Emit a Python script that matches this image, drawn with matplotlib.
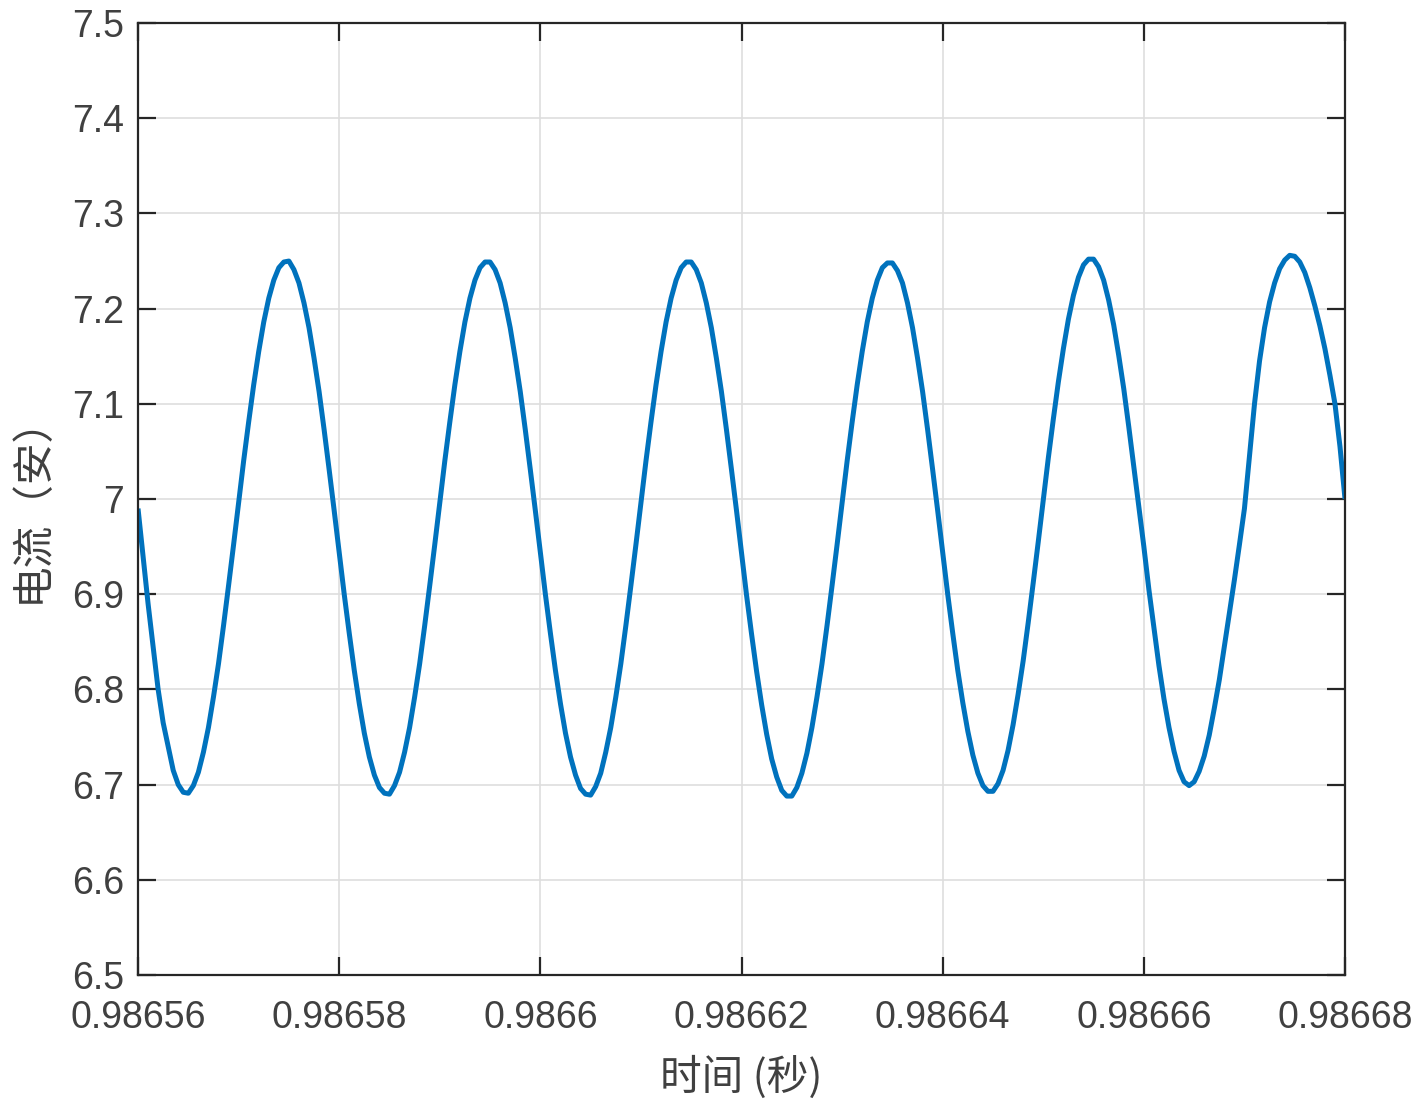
import numpy as np
import matplotlib
matplotlib.use('Agg')
import matplotlib.pyplot as plt

# 数据：时间(秒) 与 电流(安)，采样间隔 0.5 微秒
t0 = 0.98656
dt = 0.5e-6
current = [
    # 0 - 20 us
    6.990, 6.940, 6.890, 6.845, 6.800, 6.765, 6.740, 6.715, 6.700, 6.692,
    6.691, 6.699, 6.713, 6.734, 6.760, 6.792, 6.827, 6.867, 6.909, 6.952,
    6.996, 7.040, 7.081, 7.120, 7.155, 7.186, 7.211, 7.230, 7.243, 7.249,
    7.250, 7.241, 7.227, 7.206, 7.180, 7.148, 7.113, 7.073, 7.031, 6.988,
    # 20 - 40 us
    6.944, 6.900, 6.859, 6.820, 6.785, 6.754, 6.729, 6.710, 6.697, 6.691,
    6.690, 6.699, 6.713, 6.734, 6.760, 6.792, 6.827, 6.867, 6.909, 6.952,
    6.996, 7.040, 7.081, 7.120, 7.155, 7.186, 7.211, 7.230, 7.243, 7.249,
    7.249, 7.241, 7.227, 7.206, 7.180, 7.148, 7.113, 7.073, 7.031, 6.988,
    # 40 - 60 us
    6.944, 6.900, 6.859, 6.820, 6.785, 6.754, 6.729, 6.710, 6.696, 6.690,
    6.689, 6.698, 6.712, 6.734, 6.760, 6.792, 6.827, 6.867, 6.909, 6.952,
    6.996, 7.040, 7.081, 7.120, 7.155, 7.186, 7.211, 7.230, 7.243, 7.249,
    7.249, 7.241, 7.227, 7.206, 7.180, 7.148, 7.113, 7.073, 7.031, 6.988,
    # 60 - 80 us
    6.943, 6.899, 6.858, 6.819, 6.784, 6.753, 6.727, 6.708, 6.694, 6.688,
    6.688, 6.697, 6.712, 6.733, 6.760, 6.792, 6.827, 6.867, 6.909, 6.952,
    6.996, 7.040, 7.081, 7.120, 7.155, 7.186, 7.211, 7.230, 7.243, 7.248,
    7.248, 7.240, 7.227, 7.206, 7.180, 7.148, 7.113, 7.073, 7.031, 6.988,
    # 80 - 100 us
    6.944, 6.900, 6.859, 6.820, 6.786, 6.756, 6.731, 6.712, 6.699, 6.693,
    6.693, 6.701, 6.715, 6.736, 6.763, 6.795, 6.830, 6.870, 6.912, 6.955,
    6.999, 7.043, 7.084, 7.123, 7.158, 7.189, 7.214, 7.233, 7.246, 7.252,
    7.252, 7.244, 7.230, 7.209, 7.183, 7.151, 7.116, 7.076, 7.034, 6.992,
    # 100 - 120 us
    6.950, 6.905, 6.865, 6.825, 6.790, 6.760, 6.735, 6.715, 6.703, 6.699,
    6.703, 6.714, 6.730, 6.752, 6.780, 6.810, 6.845, 6.880, 6.915, 6.952,
    6.990, 7.045, 7.100, 7.145, 7.180, 7.207, 7.227, 7.242, 7.251, 7.256,
    7.255, 7.249, 7.238, 7.222, 7.203, 7.182, 7.158, 7.130, 7.100, 7.055,
    7.000,
]
time = t0 + dt * np.arange(len(current))

x_ticks = [0.98656, 0.98658, 0.98660, 0.98662, 0.98664, 0.98666, 0.98668]
x_tick_labels = ['0.98656', '0.98658', '0.9866', '0.98662', '0.98664', '0.98666', '0.98668']
y_ticks = [6.5, 6.6, 6.7, 6.8, 6.9, 7.0, 7.1, 7.2, 7.3, 7.4, 7.5]
y_tick_labels = ['6.5', '6.6', '6.7', '6.8', '6.9', '7', '7.1', '7.2', '7.3', '7.4', '7.5']

plt.rcParams['font.family'] = ['Liberation Sans', 'Noto Sans CJK SC', 'DejaVu Sans']

fig = plt.figure(figsize=(14.2, 11.03), dpi=100)
ax = fig.add_axes([0.0972, 0.1160, 0.850, 0.8631])

ax.plot(time, current, color='#0072BD', linewidth=3.6,
        solid_joinstyle='round', solid_capstyle='butt')

ax.set_xlim(0.98656, 0.98668)
ax.set_ylim(6.5, 7.5)
ax.set_xticks(x_ticks)
ax.set_xticklabels(x_tick_labels)
ax.set_yticks(y_ticks)
ax.set_yticklabels(y_tick_labels)

ax.grid(True, color='#dedede', linewidth=1.2)
ax.set_axisbelow(True)

dark = '#262626'
for s in ax.spines.values():
    s.set_color(dark)
    s.set_linewidth(1.6)
ax.tick_params(direction='in', length=13, width=1.6, colors=dark,
               labelsize=27, top=True, right=True)
ax.tick_params(axis='x', pad=18)
ax.tick_params(axis='y', pad=10)
for lab in ax.get_xticklabels() + ax.get_yticklabels():
    lab.set_color('#404040')

ax.set_xlabel('时间 (秒)', fontsize=30, color='#404040',
              family=['Noto Sans CJK SC', 'DejaVu Sans'], labelpad=14)
ax.set_ylabel('电流（安）', fontsize=30, color='#404040',
              family=['Noto Sans CJK SC', 'DejaVu Sans'], labelpad=14)

fig.savefig('out.png', dpi=100)
